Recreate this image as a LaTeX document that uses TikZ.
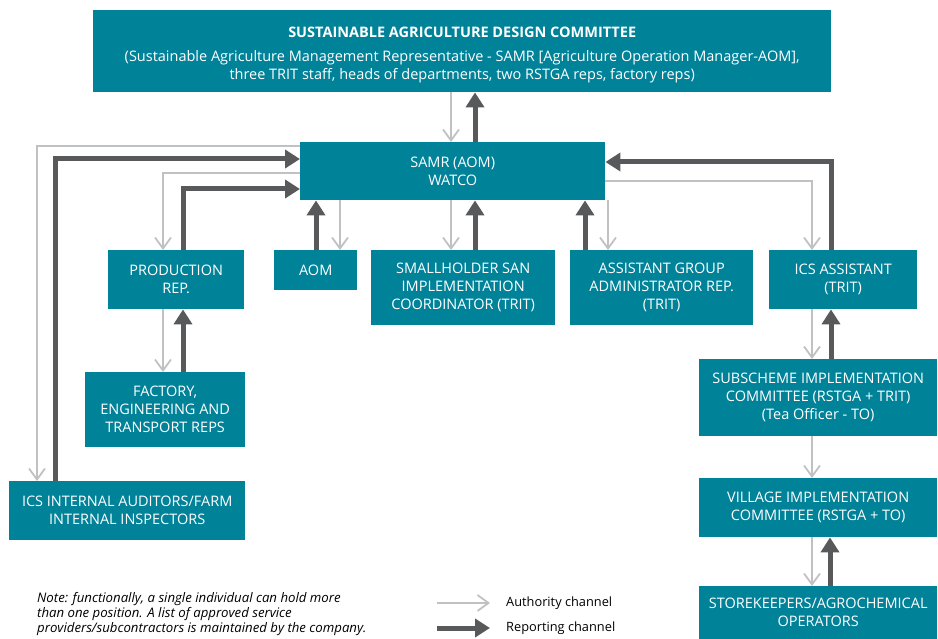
\documentclass[tikz,border=0pt]{standalone}
\usepackage{fontspec}
\setmainfont{Open Sans}
\usepackage{xcolor}
\usepackage{tikz}
\usetikzlibrary{arrows.meta, positioning}
\definecolor{saTeal}{RGB}{  0,130,153}
\definecolor{saDark}{RGB}{ 88, 89, 91}
\definecolor{saLight}{RGB}{192,193,195}

\begin{document}
\begin{tikzpicture}[x=1pt, y=-1pt,
    unit/.style={fill=saTeal, text=white, anchor=north west, align=center, inner sep=0pt,
                 font=\fontsize{14.5}{18}\selectfont},
    auth/.style={draw=saLight, line width=2.5pt,
                 -{Straight Barb[length=11pt, width=16pt, line width=1.8pt]}},
    rep/.style={draw=saDark, line width=5pt, -{Triangle[length=15pt, width=18pt]}},
    note/.style={font=\fontsize{12.8}{15}\selectfont, anchor=west, inner sep=0pt}
  ]
  \useasboundingbox (0,0) rectangle (938,639);

  % committee and SAMR
  \node[unit, minimum width=738pt, minimum height=82pt] (top) at (93,10)
       {\rule{0pt}{19pt}\textbf{SUSTAINABLE AGRICULTURE DESIGN COMMITTEE}\\[6pt]
        (Sustainable Agriculture Management Representative - SAMR [Agriculture Operation Manager-AOM],\\
        three TRIT staff, heads of departments, two RSTGA reps, factory reps)};
  \node[unit, minimum width=305pt, minimum height=58pt] (samr) at (300,142) {SAMR (AOM)\\WATCO};

  % second row
  \node[unit, minimum width=136pt, minimum height=59pt] (prod) at (108,250) {PRODUCTION\\REP.};
  \node[unit, minimum width=83pt, minimum height=40pt] (aom) at (274,250) {AOM};
  \node[unit, minimum width=184pt, minimum height=75pt] (small) at (371,250)
       {SMALLHOLDER SAN\\IMPLEMENTATION\\COORDINATOR (TRIT)};
  \node[unit, minimum width=183pt, minimum height=75pt] (agar) at (570,250)
       {ASSISTANT GROUP\\ADMINISTRATOR REP.\\(TRIT)};
  \node[unit, minimum width=148pt, minimum height=59pt] (icsa) at (769,250) {ICS ASSISTANT\\(TRIT)};

  % left column
  \node[unit, minimum width=160pt, minimum height=75pt] (fact) at (85,372)
       {FACTORY,\\ENGINEERING AND\\TRANSPORT REPS};
  \node[unit, minimum width=236pt, minimum height=59pt] (audit) at (9,481)
       {ICS INTERNAL AUDITORS/FARM\\INTERNAL INSPECTORS};

  % right column
  \node[unit, minimum width=238pt, minimum height=77pt] (sub) at (699,359)
       {SUBSCHEME IMPLEMENTATION\\COMMITTEE (RSTGA + TRIT)\\(Tea Officer - TO)};
  \node[unit, minimum width=238pt, minimum height=59pt] (vil) at (699,478)
       {VILLAGE IMPLEMENTATION\\COMMITTEE (RSTGA + TO)};
  \node[unit, minimum width=238pt, minimum height=53pt] (store) at (699,586)
       {STOREKEEPERS/AGROCHEMICAL\\OPERATORS};

  % channels to and from SAMR
  \draw[auth] ([xshift=151pt]samr.north west |- top.south) -- ([xshift=151pt]samr.north west);
  \draw[rep] ([xshift=175pt]samr.north west) -- ([xshift=175pt]samr.north west |- top.south);
  \draw[auth] ([yshift=-4pt]samr.north west) -| ([xshift=28pt]audit.north west);
  \draw[rep] ([xshift=46pt]audit.north west) |- ([yshift=-17pt]samr.north west);
  \draw[auth] ([yshift=-31pt]samr.north west) -| ([xshift=55pt]prod.north west);
  \draw[rep] ([xshift=75pt]prod.north west) |- ([yshift=-47pt]samr.north west);
  \draw[rep] ([xshift=42pt]aom.north west) -- ([xshift=42pt]aom.north west |- samr.south);
  \draw[auth] ([xshift=66pt]aom.north west |- samr.south) -- ([xshift=66pt]aom.north west);
  \draw[auth] ([xshift=80pt]small.north west |- samr.south) -- ([xshift=80pt]small.north west);
  \draw[rep] ([xshift=104pt]small.north west) -- ([xshift=104pt]small.north west |- samr.south);
  \draw[rep] ([xshift=15pt]agar.north west) -- ([xshift=15pt]agar.north west |- samr.south);
  \draw[auth] ([xshift=38pt]agar.north west |- samr.south) -- ([xshift=38pt]agar.north west);
  \draw[rep] ([xshift=62pt]icsa.north west) |- ([yshift=-20pt]samr.north east);
  \draw[auth] ([yshift=-39pt]samr.north east) -| ([xshift=43pt]icsa.north west);

  % lower channels
  \draw[auth] ([xshift=55pt]prod.south west) -- ([xshift=55pt]prod.south west |- fact.north);
  \draw[rep] ([xshift=75pt]prod.south west |- fact.north) -- ([xshift=75pt]prod.south west);
  \draw[auth] ([xshift=43pt]icsa.south west) -- ([xshift=43pt]icsa.south west |- sub.north);
  \draw[rep] ([xshift=62pt]icsa.south west |- sub.north) -- ([xshift=62pt]icsa.south west);
  \draw[auth] ([xshift=113pt]sub.south west) -- ([xshift=113pt]sub.south west |- vil.north);
  \draw[auth] ([xshift=113pt]vil.south west) -- ([xshift=113pt]vil.south west |- store.north);
  \draw[rep] ([xshift=131pt]vil.south west |- store.north) -- ([xshift=131pt]vil.south west);

  % note and legend
  \node[note, anchor=north west, align=left, font=\fontsize{13.2}{15}\selectfont\itshape] (remark) at (37,592)
       {Note: functionally, a single individual can hold more\\
        than one position. A list of approved service\\
        providers/subcontractors is maintained by the company.};
  \coordinate (legA) at (437,603);
  \coordinate (legR) at (437,628);
  \node[note] (lblA) at (506,603) {Authority channel};
  \node[note] (lblR) at (506,628) {Reporting channel};
  \draw[auth] (legA) -- ([xshift=-16pt]lblA.west);
  \draw[rep] (legR) -- ([xshift=-16pt]lblR.west);
\end{tikzpicture}
\end{document}
